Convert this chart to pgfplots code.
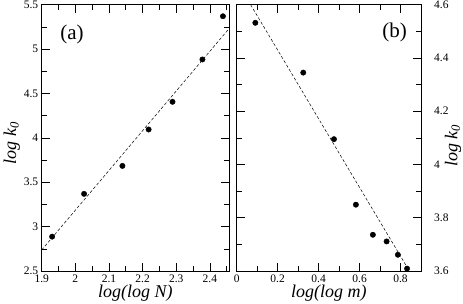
\documentclass[border=0pt]{standalone}
\usepackage{fontspec}
\setmainfont{Liberation Serif}
\usepackage{pgfplots}
\pgfplotsset{compat=1.18}
\begin{document}
\begin{tikzpicture}
\useasboundingbox (-41.7pt,-33pt) rectangle (421.3pt,271pt);
\begin{axis}[
  scale only axis, height=266.3pt,
  at={(0pt,0pt)}, anchor=south west,
  width=187.3pt,
  xmin=1.9, xmax=2.457, ymin=2.5, ymax=5.5,
  xtick={1.9,2,2.1,2.2,2.3,2.4},
  ytick={2.5,3,3.5,4,4.5,5,5.5},
  minor xtick={1.95,2.05,2.15,2.25,2.35,2.45},
  minor ytick={2.75,3.25,3.75,4.25,4.75,5.25},
  major tick length=8pt, minor tick length=5pt,
  every tick/.style={black, line width=0.6pt},
  axis line style={line width=0.8pt},
  /pgf/number format/assume math mode=true,
  tick label style={font=\fontsize{11.5}{13}\selectfont},
  label style={font=\fontsize{18}{20}\selectfont},
  xlabel={\textit{log(log N)}},
  ylabel={\textit{log k$_{\mathit{0}}$}},
  xlabel style={at={(axis description cs:0.5,-0.083)}, anchor=center},
  ylabel style={at={(axis description cs:-0.16,0.48)}, anchor=center, rotate=0},
]
\addplot[black, densely dashed, line width=0.5pt] coordinates {(1.9,2.737) (2.457,5.23)};
\addplot[only marks, mark=*, mark size=2.7pt, black] coordinates {
(1.931,2.887) (2.026,3.369) (2.140,3.684) (2.218,4.094) (2.289,4.406) (2.378,4.883) (2.439,5.37)};
\node[font=\fontsize{21}{23}\selectfont] at (rel axis cs:0.162,0.89) {(a)};
\end{axis}
\begin{axis}[
  scale only axis, height=266.3pt,
  at={(195pt,0pt)}, anchor=south west,
  width=184.3pt,
  xmin=0, xmax=0.9, ymin=3.6, ymax=4.6,
  xtick={0,0.2,0.4,0.6,0.8},
  ytick={3.6,3.8,4,4.2,4.4,4.6},
  minor xtick={0.1,0.3,0.5,0.7,0.9},
  minor ytick={3.7,3.9,4.1,4.3,4.5},
  major tick length=8pt, minor tick length=5pt,
  every tick/.style={black, line width=0.6pt},
  axis line style={line width=0.8pt},
  /pgf/number format/assume math mode=true,
  tick label style={font=\fontsize{11.5}{13}\selectfont},
  yticklabel style={anchor=west, xshift=194pt},
  label style={font=\fontsize{18}{20}\selectfont},
  xlabel={\textit{log(log m)}},
  ylabel={\textit{log k$_{\mathit{0}}$}},
  xlabel style={at={(axis description cs:0.5,-0.083)}, anchor=center},
  ylabel style={at={(axis description cs:1.174,0.47)}, anchor=center, rotate=0},
]
\addplot[black, densely dashed, line width=0.5pt] coordinates {(0.068,4.6) (0.84,3.604)};
\addplot[only marks, mark=*, mark size=2.7pt, black, clip=false] coordinates {
(0.091,4.532) (0.325,4.345) (0.475,4.095) (0.582,3.849) (0.665,3.736) (0.732,3.711) (0.787,3.661) (0.832,3.609)};
\node[font=\fontsize{21}{23}\selectfont] at (rel axis cs:0.857,0.896) {(b)};
\end{axis}
\end{tikzpicture}
\end{document}
